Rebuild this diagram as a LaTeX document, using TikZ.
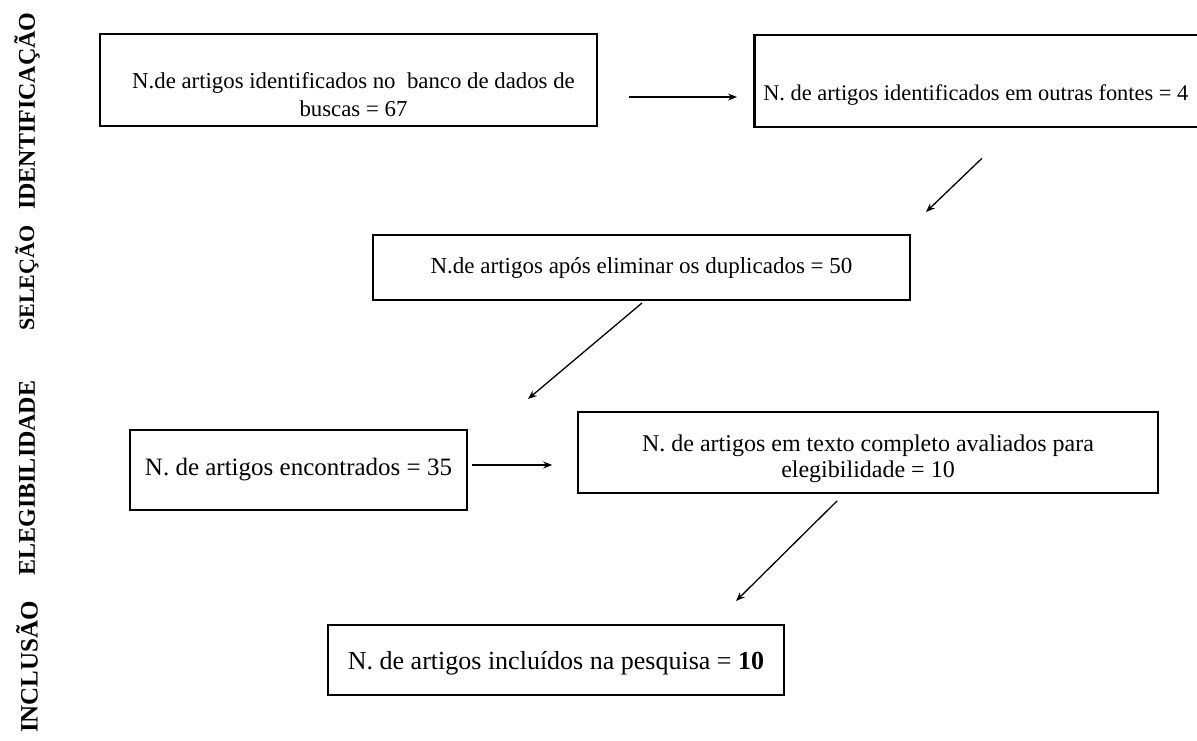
\documentclass[tikz,border=0pt]{standalone}
\usepackage{fontspec}
\setmainfont{Liberation Serif}
\usetikzlibrary{calc,arrows.meta}
\newcommand{\lowr}[2]{\raisebox{-#1}[\height][\depth]{\begin{tabular}{@{}c@{}}#2\end{tabular}}}
\begin{document}
\begin{tikzpicture}[x=1pt,y=-1pt,
  box/.style={draw=black,line width=2pt,inner sep=0pt,align=center},
  fs/.style={font=\fontsize{#1}{28}\selectfont},
  arr/.style={line width=1.3pt,-{Stealth[length=9pt,width=7pt]}},
  lab/.style={rotate=90,font=\bfseries\fontsize{#1}{24}\selectfont}]
\useasboundingbox (0,0) rectangle (1197,740);
\begin{scope}
\clip (0,0) rectangle (1197,740);
\node[box,fs=22.8,minimum width=497,minimum height=92] (b1) at (348.5,80) {\lowr{17pt}{\hspace*{10pt}N.de artigos identificados no\ \ banco de dados de\\\hspace*{10pt}buscas = 67}};
\node[box,fs=22.4,minimum height=92,anchor=west,line width=2.5pt] (b2) at (753,81) {\raisebox{-14pt}[\height][\depth]{\makebox[480pt][l]{\hspace*{9pt}N. de artigos identificados em outras fontes = 4}}};
\end{scope}
\node[box,fs=23,minimum width=537,minimum height=65] (b3) at (641.5,267.5) {N.de artigos após eliminar os duplicados = 50};
\node[box,fs=25,minimum width=337,minimum height=80] (b4) at (298.5,470) {N. de artigos encontrados = 35};
\node[box,font=\fontsize{24}{26}\selectfont,line width=1.5pt,minimum width=580,minimum height=81] (b5) at (868,452.5) {\lowr{7pt}{N. de artigos em texto completo avaliados para\\elegibilidade = 10}};
\node[box,fs=26,minimum width=456,minimum height=70] (b6) at (556,660) {\raisebox{-3pt}[\height][\depth]{N. de artigos incluídos na pesquisa = \textbf{10}}};
\draw[arr] ($(b1.east)+(31,17)$) -- ($(b2.west)+(-16,16)$);
\draw[arr] ($(b2.south west)+(229,30)$) -- ($(b3.north east)+(15,-22)$);
\draw[arr] ($(b3.south west)+(270,2)$) -- ($(b4.north east)+(60,-30)$);
\draw[arr] ($(b4.east)+(4,-5)$) -- ($(b5.west)+(-25,12.5)$);
\draw[arr] ($(b5.south west)+(260,7)$) -- ($(b6.north east)+(-49,-23)$);
\node[lab=24] (l1) at (27,111) {IDENTIFICAÇÃO};
\node[lab=22] (l2) at (27,278) {SELEÇÃO};
\node[lab=24] (l3) at (27,478) {ELEGIBILIDADE};
\node[lab=25] (l4) at (27,667) {INCLUSÃO};
\end{tikzpicture}
\end{document}
